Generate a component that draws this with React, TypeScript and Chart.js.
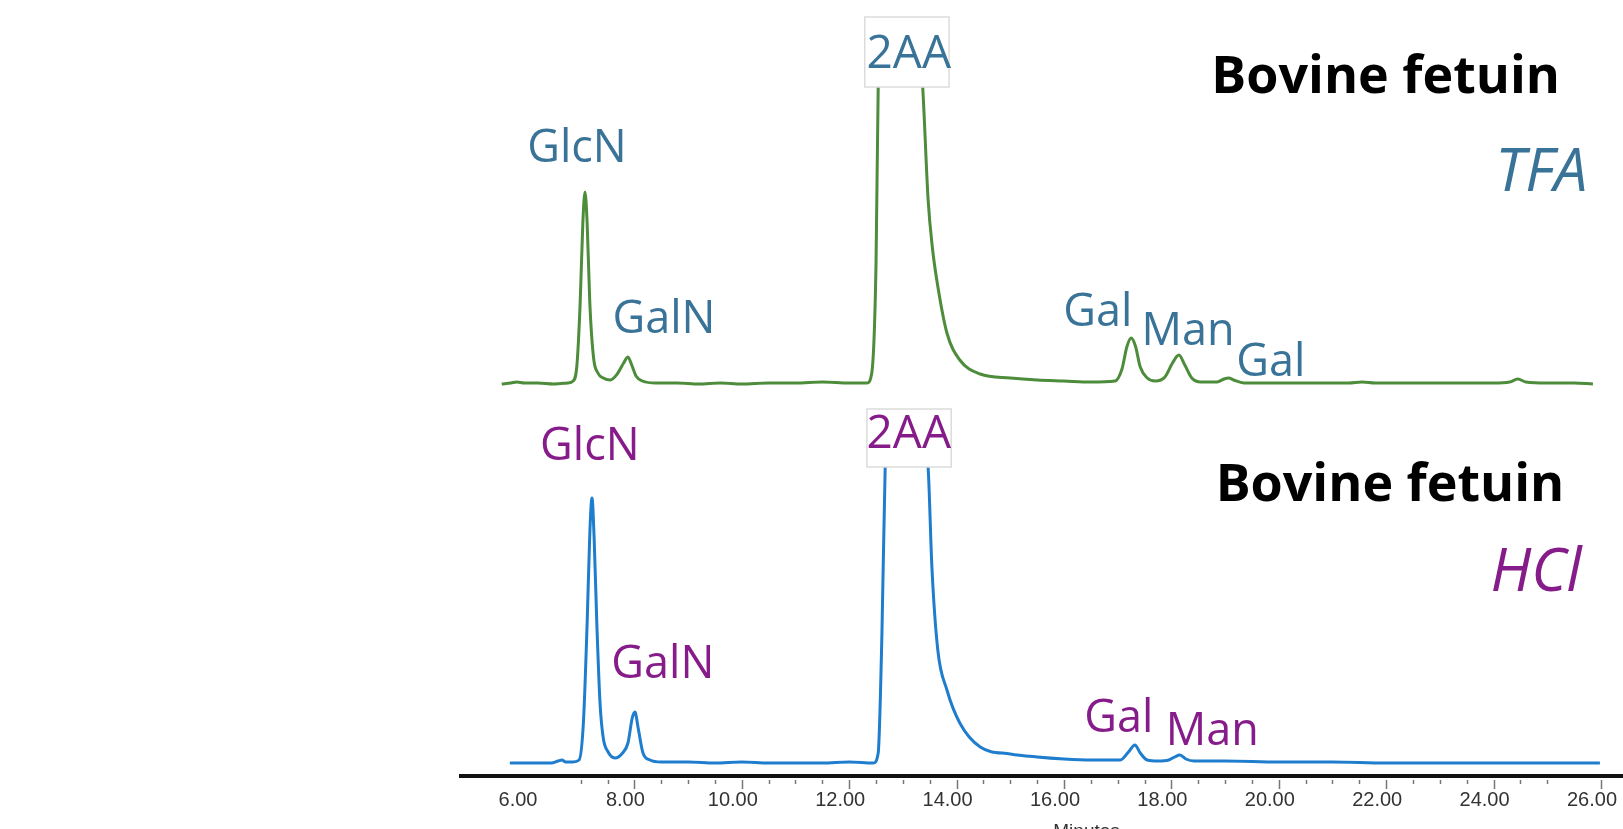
import React, { useEffect, useRef } from "react";
import { Chart, registerables } from "chart.js";

Chart.register(...registerables);

// ---- Data (retention time in minutes, detector response) ----
const TFA_TIME = [
  5.53, 5.7, 5.81, 5.95, 6.2, 6.5, 6.75, 6.86, 6.93, 6.99, 7.04, 7.08, 7.12, 7.17, 7.24, 7.32, 7.42, 7.55,
  7.68, 7.8, 7.88, 7.95, 8.03, 8.15, 8.4, 8.8, 9.2, 9.6, 10.0, 10.5, 11.0, 11.5, 12.0, 12.33, 12.42, 12.5,
  12.54, 12.6, 12.8, 13.1, 13.3, 13.37, 13.47, 13.55, 13.64, 13.82, 14.06, 14.44, 15.0, 15.5, 16.0, 16.5,
  16.95, 17.08, 17.17, 17.25, 17.33, 17.42, 17.55, 17.7, 17.88, 18.02, 18.14, 18.25, 18.38, 18.55, 18.85,
  18.98, 19.07, 19.16, 19.35, 19.8, 20.5, 21.3, 21.55, 21.8, 22.5, 23.3, 24.0, 24.3, 24.45, 24.6, 25.0,
  25.5, 25.85,
];
const TFA_SIGNAL = [
  -1, 0, 1, 0, 0, -1, 0, 2, 18, 80, 160, 191, 160, 80, 25, 10, 5, 3,
  9, 20, 26, 18, 7, 2, 0, 0, -1, 0, -1, 0, 0, 1, 0, 0, 10, 120,
  295, 350, 362, 362, 345, 295, 183, 135, 100, 50, 23, 9, 5, 3, 2, 1,
  2, 14, 36, 45, 37, 16, 5, 2, 6, 20, 28, 18, 5, 1, 1,
  4, 5, 3, 0, 0, 0, 0, 1, 0, 0, 0, 0, 1, 4, 1, 0,
  0, -1,
];

const HCL_TIME = [
  5.68, 5.9, 6.2, 6.45, 6.58, 6.65, 6.72, 6.85, 6.97, 7.05, 7.12, 7.17, 7.21, 7.25, 7.3, 7.36, 7.42, 7.5,
  7.64, 7.78, 7.88, 7.96, 8.01, 8.07, 8.16, 8.29, 8.5, 9.0, 9.5, 10.0, 10.5, 11.0, 11.5, 12.0, 12.45,
  12.54, 12.61, 12.67, 12.74, 13.0, 13.3, 13.47, 13.54, 13.65, 13.82, 14.06, 14.44, 15.0, 15.5, 16.0,
  16.5, 17.05, 17.2, 17.32, 17.42, 17.55, 17.75, 17.95, 18.06, 18.16, 18.27, 18.42, 19.0, 20.0, 21.0,
  22.0, 23.0, 24.0, 25.0, 25.98,
];
const HCL_SIGNAL = [
  0, 0, 0, 0, 2, 3, 1, 1, 3, 40, 140, 230, 265, 225, 140, 60, 25, 12,
  5, 10, 20, 45, 51, 35, 10, 3, 1, 1, 0, 1, 0, 0, 0, 1, 0,
  10, 130, 295, 340, 348, 340, 295, 196, 113, 73, 40, 16, 9, 6, 4,
  3, 3, 11, 18, 10, 3, 2, 3, 6, 8, 4, 2, 2, 1, 1,
  0, 0, 0, 0, 0,
];

// vertical stacking of the two chromatograms
const TFA_OFFSET = 393;
const HCL_OFFSET = 13;

// axis
const X_MIN = 4.771;
const X_MAX = 26.41;
const X_TICK_LABELS = [6, 8, 10, 12, 14, 16, 18, 20, 22, 24, 26];
const X_TICK_MARKS = [
  7, 7.5, 8, 8.5, 9, 9.5, 10, 10.5, 11, 11.5, 12, 12.5, 13, 13.5, 14, 14.5, 15, 15.5, 16, 16.5, 17,
  17.5, 18, 18.5, 19, 19.5, 20, 20.5, 21, 21.5, 22, 22.5, 23, 23.5, 24, 24.5, 25, 26,
];
const X_TITLE = "Minutes";
const X_TITLE_T = 16.42;

// peak annotations
const TFA_PEAK_NAMES = ["GlcN", "GalN", "Gal", "Man", "Gal"];
const TFA_PEAK_T = [6.93, 8.55, 16.63, 18.31, 19.85];
const TFA_PEAK_Y = [614, 443, 450, 431, 400];
const HCL_PEAK_NAMES = ["GlcN", "GalN", "Gal", "Man"];
const HCL_PEAK_T = [7.17, 8.53, 17.02, 18.76];
const HCL_PEAK_Y = [316, 98, 44, 31];

// off-scale 2AA reagent peak boxes: [tLeft, tRight, yTop, yBottom, textT, textY]
const REAGENT_NAME = "2AA";
const TFA_REAGENT_BOX = [12.29, 13.86, 759, 689, 13.11, 708];
const HCL_REAGENT_BOX = [12.33, 13.9, 367, 309, 13.11, 328];

const SAMPLE_NAME = "Bovine fetuin";
const TFA_SAMPLE_POS = [21.99, 683];
const HCL_SAMPLE_POS = [22.07, 275];
const TFA_METHOD = "TFA";
const HCL_METHOD = "HCl";
const TFA_METHOD_POS = [24.89, 585];
const HCL_METHOD_POS = [24.79, 185];

const GREEN = "#4c8c3a";
const BLUE = "#1e7dcc";
const TEAL = "#3a7398";
const PURPLE = "#861c89";

const LABEL_FONT = '45px "Open Sans"';
const REAGENT_FONT = '46px "Open Sans"';
const SAMPLE_FONT = 'bold 52px "Open Sans"';
const METHOD_FONT = 'italic 60px "Open Sans"';

const annotatePlugin = {
  id: "annotate",
  afterDatasetsDraw(chart: any) {
    const { ctx, scales } = chart;
    const x = scales.x;
    const y = scales.y;
    ctx.save();
    ctx.textAlign = "center";
    ctx.textBaseline = "alphabetic";

    const drawBox = (box: number[], color: string) => {
      const l = x.getPixelForValue(box[0]);
      const r = x.getPixelForValue(box[1]);
      const t = y.getPixelForValue(box[2]);
      const b = y.getPixelForValue(box[3]);
      ctx.fillStyle = "#ffffff";
      ctx.fillRect(l, t, r - l, b - t);
      ctx.strokeStyle = "#dcdcdc";
      ctx.lineWidth = 1.5;
      ctx.strokeRect(l, t, r - l, b - t);
      ctx.fillStyle = color;
      ctx.font = REAGENT_FONT;
      ctx.fillText(REAGENT_NAME, x.getPixelForValue(box[4]), y.getPixelForValue(box[5]));
    };
    drawBox(TFA_REAGENT_BOX, TEAL);
    drawBox(HCL_REAGENT_BOX, PURPLE);

    ctx.font = LABEL_FONT;
    ctx.fillStyle = TEAL;
    TFA_PEAK_NAMES.forEach((n, i) =>
      ctx.fillText(n, x.getPixelForValue(TFA_PEAK_T[i]), y.getPixelForValue(TFA_PEAK_Y[i]))
    );
    ctx.fillStyle = PURPLE;
    HCL_PEAK_NAMES.forEach((n, i) =>
      ctx.fillText(n, x.getPixelForValue(HCL_PEAK_T[i]), y.getPixelForValue(HCL_PEAK_Y[i]))
    );

    ctx.font = SAMPLE_FONT;
    ctx.fillStyle = "#000000";
    ctx.fillText(SAMPLE_NAME, x.getPixelForValue(TFA_SAMPLE_POS[0]), y.getPixelForValue(TFA_SAMPLE_POS[1]));
    ctx.fillText(SAMPLE_NAME, x.getPixelForValue(HCL_SAMPLE_POS[0]), y.getPixelForValue(HCL_SAMPLE_POS[1]));

    ctx.font = METHOD_FONT;
    ctx.fillStyle = TEAL;
    ctx.fillText(TFA_METHOD, x.getPixelForValue(TFA_METHOD_POS[0]), y.getPixelForValue(TFA_METHOD_POS[1]));
    ctx.fillStyle = PURPLE;
    ctx.fillText(HCL_METHOD, x.getPixelForValue(HCL_METHOD_POS[0]), y.getPixelForValue(HCL_METHOD_POS[1]));
    ctx.restore();
  },
  afterDraw(chart: any) {
    const { ctx, scales, chartArea } = chart;
    const x = scales.x;
    ctx.save();
    ctx.strokeStyle = "#777777";
    ctx.lineWidth = 1.5;
    X_TICK_MARKS.forEach((v) => {
      const px = Math.round(x.getPixelForValue(v)) + 0.5;
      const major = X_TICK_LABELS.includes(v);
      const top = chartArea.bottom + 4;
      ctx.beginPath();
      ctx.moveTo(px, top);
      ctx.lineTo(px, top + (major ? 9 : 4));
      ctx.stroke();
    });
    ctx.fillStyle = "#333333";
    ctx.font = '19px "Liberation Sans", Arial, sans-serif';
    ctx.textAlign = "center";
    ctx.textBaseline = "top";
    ctx.fillText(X_TITLE, x.getPixelForValue(X_TITLE_T), chartArea.bottom + 46);
    ctx.restore();
  },
};

export default function App() {
  const canvasRef = useRef<HTMLCanvasElement | null>(null);

  useEffect(() => {
    if (!canvasRef.current) return;
    const tfa = TFA_TIME.map((t, i) => ({ x: t, y: TFA_SIGNAL[i] + TFA_OFFSET }));
    const hcl = HCL_TIME.map((t, i) => ({ x: t, y: HCL_SIGNAL[i] + HCL_OFFSET }));
    const chart = new Chart(canvasRef.current, {
      type: "line",
      data: {
        datasets: [
          {
            label: "Bovine fetuin TFA",
            data: tfa,
            borderColor: GREEN,
            borderWidth: 3,
            pointRadius: 0,
            cubicInterpolationMode: "monotone",
            fill: false,
          },
          {
            label: "Bovine fetuin HCl",
            data: hcl,
            borderColor: BLUE,
            borderWidth: 3,
            pointRadius: 0,
            cubicInterpolationMode: "monotone",
            fill: false,
          },
        ],
      },
      options: {
        animation: false,
        responsive: false,
        maintainAspectRatio: false,
        layout: { padding: { left: 461, right: 0, top: 0, bottom: 5.4 } },
        plugins: {
          legend: { display: false },
          tooltip: { enabled: false },
          title: { display: false },
        },
        scales: {
          x: {
            type: "linear",
            min: X_MIN,
            max: X_MAX,
            afterBuildTicks: (scale: any) => {
              scale.ticks = X_TICK_LABELS.map((v) => ({ value: v }));
            },
            afterFit: (scale: any) => {
              scale.paddingLeft = 0;
              scale.paddingRight = 0;
              scale.height = 47.6;
            },
            ticks: {
              autoSkip: false,
              maxRotation: 0,
              padding: 12,
              labelOffset: -9,
              color: "#333333",
              font: { family: '"Liberation Sans", Arial, sans-serif', size: 20 },
              callback: (v: any) => Number(v).toFixed(2),
            },
            grid: { display: false, drawTicks: false, drawOnChartArea: false },
            border: { display: true, color: "#111111", width: 4 },
          },
          y: {
            type: "linear",
            display: false,
            min: 0,
            max: 776,
          },
        },
      },
      plugins: [annotatePlugin],
    });
    return () => chart.destroy();
  }, []);

  return (
    <div style={{ position: "fixed", left: 0, top: 0, width: 1623, height: 829, background: "#fff" }}>
      <canvas ref={canvasRef} width={1623} height={829} style={{ display: "block" }} />
    </div>
  );
}
